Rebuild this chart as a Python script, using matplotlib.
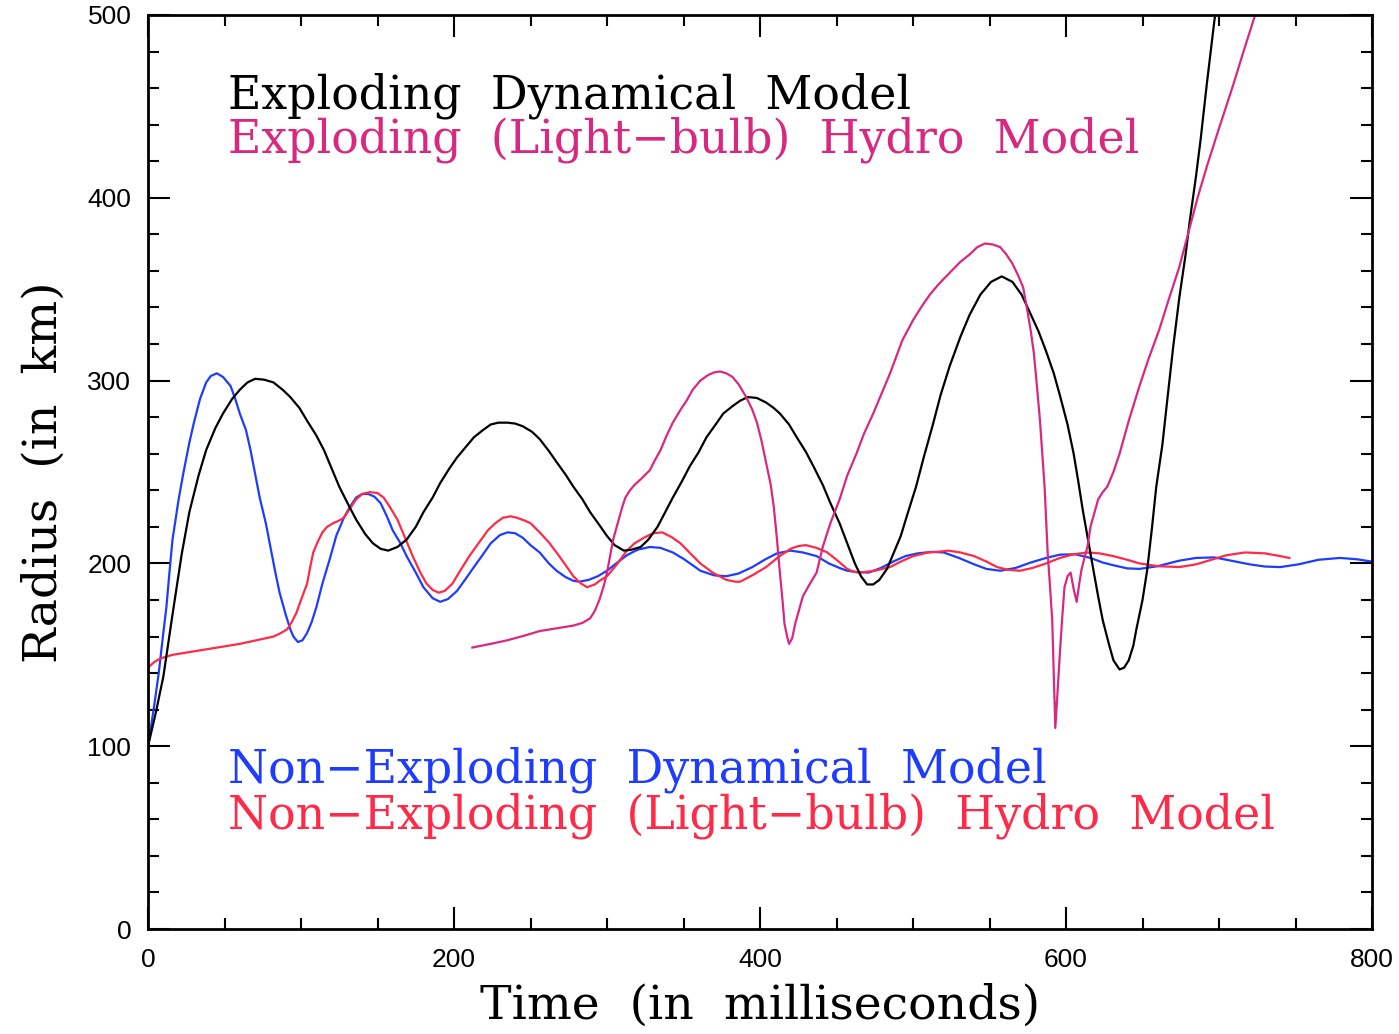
import numpy as np
import matplotlib.pyplot as plt
from matplotlib.ticker import MultipleLocator

# Exploding dynamical model (black)
t_exp_dyn = [0, 5, 10, 16, 22, 27, 33, 38, 44, 49, 55, 60, 65, 70,
             76, 82, 88, 93, 99, 104, 110, 115, 120, 125, 131, 136, 142, 147, 152, 157,
             163, 169, 175, 180, 186, 191, 197, 202, 208, 213, 219, 224, 229, 235,
             240, 245, 251, 256, 262, 267, 273, 278, 284, 289, 295, 300, 305, 311,
             316, 322, 327, 333, 338, 343, 349, 354, 360, 365, 371, 376, 382, 387, 392,
             398, 404, 409, 413, 419, 424, 430, 435, 441, 446, 452, 457, 462, 466, 470,
             474, 478, 483, 487, 492, 496, 502, 507, 513, 518, 524, 531, 537, 544, 551, 558,
             565, 571, 576, 582, 587, 592, 596, 601, 605, 608, 611, 615, 618, 621, 624, 628,
             631, 635, 638, 641, 644, 646, 650, 653, 656, 659, 663, 666, 670, 674, 678, 681,
             685, 688, 692, 697, 700]
r_exp_dyn = [100, 118, 138, 172, 205, 228, 248, 262, 274, 282, 290, 295, 299, 301,
             300.5, 299, 295, 291, 285, 278, 270, 262, 252, 242, 232, 224, 216, 211, 208, 207,
             209, 213, 220, 228, 236, 244, 252, 258, 264, 269, 273, 276, 277, 277,
             276.5, 275, 272, 268, 261.5, 255.5, 248.5, 242, 235, 228, 221, 215, 210, 207,
             207.5, 209, 213, 220, 228, 236, 245, 253, 261, 269, 276, 282, 286, 289, 291,
             290.5, 288, 285, 282, 276, 269, 261, 253, 243, 233, 222, 211, 200, 193, 188.5,
             188.5, 191, 197, 205, 215, 226, 242, 258, 276, 292, 308, 324, 336, 347, 354, 357,
             354, 347, 338, 327, 316, 304, 292, 276, 260, 245, 229, 210, 196, 182, 169, 156,
             147, 142, 143, 147, 155, 164, 180, 196, 218, 242, 265, 288, 318, 345, 368, 388,
             412, 432, 462, 497, 516]

# Exploding light-bulb hydro model (magenta)
t_exp_hyd = [212, 224, 235, 246, 256, 267, 278, 284, 289, 292, 295, 298, 300, 302, 304, 307,
             310, 312, 315, 318, 322, 325, 328, 331, 335, 339, 343, 348, 352, 356, 361, 366,
             370, 374, 378, 382, 386, 391, 395, 398, 401, 404, 407, 409, 411, 413, 415, 416,
             418, 419, 421, 423, 426, 428, 432, 437, 441, 446, 452, 457, 463, 468, 474, 480,
             485, 489, 493, 500, 506, 511, 517, 524, 531, 537, 542, 547, 552, 557, 561, 565,
             569, 572, 575, 577, 579, 581, 583, 584.5, 586, 587, 588, 589.5, 591, 592, 593,
             594.5, 596, 597.5, 599, 601, 603, 605, 607, 608.5, 610, 612, 614, 616, 619, 621,
             624, 627, 631, 635, 641, 648, 654, 661, 667, 674, 680, 686, 692, 700, 709, 716,
             724, 727]
r_exp_hyd = [154, 156, 158, 160.5, 163, 164.5, 166, 167.5, 170, 174, 180, 188, 195, 204, 213, 222,
             231, 236, 240, 243, 246, 248.5, 251, 256, 262, 270, 277, 284, 289, 295, 300, 303,
             304.5, 305, 304, 302, 298, 291, 284, 277, 267, 255, 243, 231, 214, 195, 177, 167,
             159, 156, 159, 167, 176, 182, 188, 195, 209, 222, 235, 248, 260, 271, 282, 294,
             304, 313, 322, 333, 341, 347, 353, 359, 365, 369, 373, 375, 374.5, 373, 369, 364,
             357, 351, 337, 327, 315, 297, 278, 260, 242, 224, 206, 188, 169, 140, 110,
             130, 151, 170, 187, 193, 195, 186, 179, 188, 196, 203, 209, 220, 229, 235,
             239, 242, 250, 260, 278, 297, 312, 328, 344, 362, 381, 400, 417, 438, 461, 480,
             501, 510]

# Non-exploding dynamical model (blue)
t_non_dyn = [0, 4, 7, 10, 12, 14, 16, 20, 23, 27, 30, 34, 38, 41, 45, 49, 54, 57, 60, 64, 67,
             70, 73, 77, 80, 83, 86, 90, 93, 95, 98, 101, 104, 107, 110, 114, 119, 123, 128,
             132, 136, 140, 144, 148, 152, 156, 160, 165, 169, 175, 180, 186, 191, 196, 202,
             208, 213, 219, 224, 230, 235, 240, 245, 250, 256, 262, 267, 273, 278, 282, 288,
             294, 300, 306, 313, 320, 328, 335, 343, 350, 356, 361, 370, 378, 386, 395, 403,
             411, 420, 428, 437, 445, 452, 457, 464, 471, 479, 487, 495, 503, 512, 520, 530,
             540, 548, 557, 567, 577, 587, 596, 606, 616, 624, 631, 640, 648, 660, 674, 685,
             697, 708, 720, 730, 740, 752, 765, 779, 790, 800]
r_non_dyn = [100, 122, 140, 162, 176, 195, 213, 235, 249, 266, 277, 290, 299, 302.5, 304, 302,
             297, 290, 282, 273, 262, 249, 236, 222, 209, 196, 184, 172, 164, 160, 157, 158,
             162, 168, 176, 189, 203, 215, 225, 231, 236, 238, 238, 236.5, 233, 226, 218, 211,
             204, 195, 187, 181, 179, 180.5, 185, 192, 198, 205, 211, 215.5, 217, 216.5, 214,
             210, 206, 200, 196, 192.5, 190.5, 190, 191, 193, 196, 200, 204.5, 207.5, 209,
             208.5, 206, 202.5, 199, 196, 193.5, 193, 194.5, 198, 202, 205.5, 207, 206, 204,
             200, 197.5, 196, 195.2, 195, 197.5, 201, 204, 205.5, 206.3, 206, 203, 199.5, 197,
             196, 197.5, 200.5, 203, 204.8, 205, 203, 200.5, 199, 197.3, 197, 198.5, 201.5,
             203, 203.3, 201.5, 199.5, 198.3, 198, 199.5, 202, 203, 202.3, 201]

# Non-exploding light-bulb hydro model (red)
t_non_hyd = [0, 4, 8, 16, 27, 38, 49, 60, 71, 82, 87, 91, 94, 97, 100, 104, 106, 108, 111, 114,
             117, 121, 125, 128, 132, 136, 140, 145, 150, 154, 158, 163, 168, 173, 178, 182,
             186, 190, 194, 199, 204, 210, 216, 222, 227, 232, 237, 241, 246, 250, 256, 262,
             267, 273, 278, 283, 287, 292, 296, 300, 306, 313, 318, 324, 330, 336, 342, 348,
             355, 361, 369, 378, 384, 387, 395, 404, 412, 420, 425, 430, 437, 444, 450, 457,
             461, 465, 475, 485, 492, 500, 510, 518, 523, 531, 540, 548, 555, 562, 570, 578,
             587, 596, 605, 614, 622, 631, 640, 648, 660, 674, 685, 695, 705, 717, 730, 740, 746]
r_non_hyd = [143, 146, 148, 150, 151.5, 153, 154.5, 156, 158, 160, 162, 164, 168, 173, 180, 189,
             198, 206, 212, 217, 220, 222, 223.5, 225, 230, 235, 238, 239, 238.5, 236, 231, 224,
             214, 204, 195, 189, 185.5, 184, 185, 189, 196, 204, 211, 218, 222, 225, 225.8, 225,
             223.5, 222, 217, 211.5, 206, 199, 193, 189, 187, 188.5, 191, 193, 199, 207, 211,
             214, 216.5, 217, 214.5, 211, 205, 200, 195, 191, 190, 190, 193.5, 198, 203.5, 208,
             209.5, 210, 208.5, 206, 202, 197, 195.5, 195, 196, 198, 201, 204, 206, 206.5, 207,
             206, 204, 201, 198, 196.5, 196, 197.5, 200, 203, 205, 206, 205.5, 204, 202, 200,
             198.5, 198, 199.5, 202, 204.5, 206, 205.5, 204, 203]

labels_top = ["Exploding  Dynamical  Model", "Exploding  (Light\u2212bulb)  Hydro  Model"]
labels_bottom = ["Non\u2212Exploding  Dynamical  Model",
                 "Non\u2212Exploding  (Light\u2212bulb)  Hydro  Model"]

c_black = "#000000"
c_magenta = "#d8287f"
c_blue = "#1e3cff"
c_red = "#ff2a48"

fig = plt.figure(figsize=(13.99, 10.34), dpi=100)
ax = fig.add_axes([0.1058, 0.1015, 0.8749, 0.884])

lw = 1.6
ax.plot(t_non_dyn, r_non_dyn, color=c_blue, lw=lw)
ax.plot(t_non_hyd, r_non_hyd, color=c_red, lw=lw)
ax.plot(t_exp_dyn, r_exp_dyn, color=c_black, lw=lw)
ax.plot(t_exp_hyd, r_exp_hyd, color=c_magenta, lw=lw)

ax.set_xlim(0, 800)
ax.set_ylim(0, 500)

ax.xaxis.set_major_locator(MultipleLocator(200))
ax.xaxis.set_minor_locator(MultipleLocator(50))
ax.yaxis.set_major_locator(MultipleLocator(100))
ax.yaxis.set_minor_locator(MultipleLocator(20))
ax.tick_params(which="both", direction="in", top=True, right=True, width=1.5, colors="black")
ax.tick_params(which="major", length=16)
ax.tick_params(which="minor", length=8)
ax.tick_params(axis="x", pad=14)
ax.tick_params(axis="y", pad=12)
for lab in ax.get_xticklabels() + ax.get_yticklabels():
    lab.set_family("Liberation Sans")
    lab.set_fontsize(19)
for sp in ax.spines.values():
    sp.set_linewidth(2)

serif = "DejaVu Serif"
ax.set_xlabel("Time  (in  milliseconds)", family=serif, fontsize=34, labelpad=8)
ax.set_ylabel("Radius  (in  km)", family=serif, fontsize=34, labelpad=15)

fs = 33
ax.text(52, 449, labels_top[0], color=c_black, family=serif, fontsize=fs, va="baseline")
ax.text(52, 425, labels_top[1], color=c_magenta, family=serif, fontsize=fs, va="baseline")
ax.text(52, 80, labels_bottom[0], color=c_blue, family=serif, fontsize=fs, va="baseline")
ax.text(52, 55, labels_bottom[1], color=c_red, family=serif, fontsize=fs, va="baseline")

fig.savefig("out.png", dpi=100)
